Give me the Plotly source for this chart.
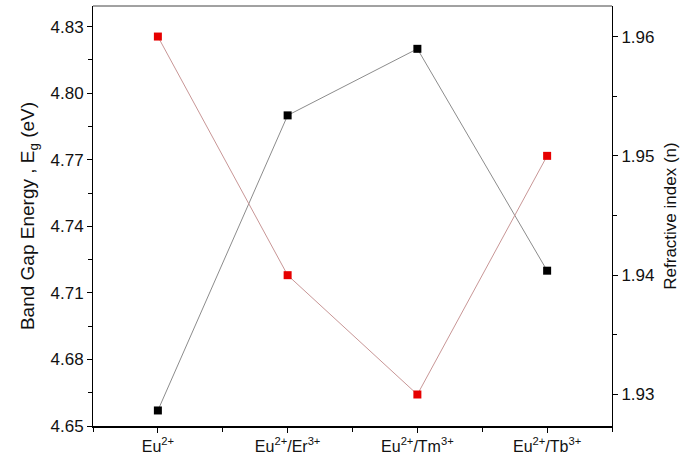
import plotly.graph_objects as go

categories = ["Eu<sup>2+</sup>", "Eu<sup>2+</sup>/Er<sup>3+</sup>", "Eu<sup>2+</sup>/Tm<sup>3+</sup>", "Eu<sup>2+</sup>/Tb<sup>3+</sup>"]
band_gap = [4.657, 4.790, 4.820, 4.720]
refractive = [1.960, 1.940, 1.930, 1.950]
left_ticks = [4.65, 4.68, 4.71, 4.74, 4.77, 4.80, 4.83]
right_ticks = [1.93, 1.94, 1.95, 1.96]

xs = list(range(len(categories)))
font = "Liberation Sans, Arial, sans-serif"

fig = go.Figure()
fig.add_trace(go.Scatter(x=xs, y=band_gap, mode="lines+markers",
                         line=dict(color="#8c8c8c", width=1),
                         marker=dict(symbol="square", size=8, color="black"),
                         yaxis="y", showlegend=False))
fig.add_trace(go.Scatter(x=xs, y=refractive, mode="lines+markers",
                         line=dict(color="#c89696", width=1),
                         marker=dict(symbol="square", size=8, color="#e60000"),
                         yaxis="y2", showlegend=False))

fig.update_layout(
    width=689, height=461,
    margin=dict(l=93, r=77, t=6, b=29),
    plot_bgcolor="white", paper_bgcolor="white",
    font=dict(family=font, size=16, color="#111111"),
    xaxis=dict(range=[-0.5, 3.5], tickmode="array", tickvals=xs, ticktext=categories,
               showline=True, linecolor="black", linewidth=2, mirror=False,
               ticks="outside", ticklen=5, tickcolor="black",
               minor=dict(ticks="outside", ticklen=4, tickcolor="black", tick0=0.5, dtick=1),
               showgrid=False, zeroline=False, tickfont=dict(size=16)),
    yaxis=dict(range=[4.65, 4.8393], tickmode="array", tickvals=left_ticks,
               ticktext=[f"{v:.2f}" for v in left_ticks],
               showline=True, linecolor="black", linewidth=1,
               ticks="outside", ticklen=5, tickcolor="black",
               minor=dict(ticks="outside", ticklen=4, tickcolor="black", tick0=4.665, dtick=0.03),
               showgrid=False, zeroline=False, tickfont=dict(size=17),
               title=dict(text="Band Gap Energy , E<sub>g</sub> (eV)", font=dict(size=19), standoff=10)),
    yaxis2=dict(range=[1.92736, 1.96256], overlaying="y", side="right",
                tickmode="array", tickvals=right_ticks, ticktext=[f"{v:.2f}" for v in right_ticks],
                showline=True, linecolor="black", linewidth=1,
                ticks="outside", ticklen=5, tickcolor="black",
                minor=dict(ticks="outside", ticklen=4, tickcolor="black", tick0=1.935, dtick=0.01),
                showgrid=False, zeroline=False, tickfont=dict(size=17),
                title=dict(text="Refractive index (n)", font=dict(size=17), standoff=10)),
)
fig.add_shape(type="line", xref="paper", yref="paper", x0=0, x1=1, y0=1, y1=1,
              line=dict(color="#444444", width=1))

fig.write_html("out.html")
